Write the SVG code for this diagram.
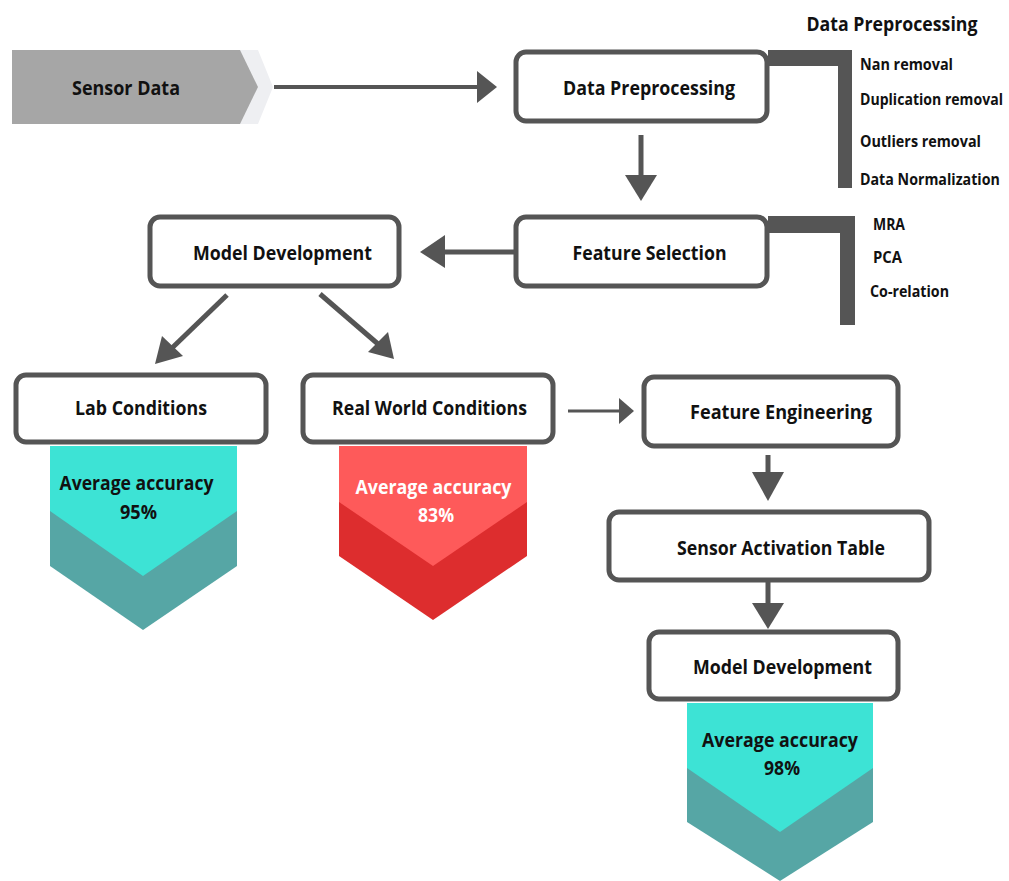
<svg xmlns="http://www.w3.org/2000/svg" width="1009" height="881" viewBox="0 0 1009 881">
  <style>
    .box { fill: #ffffff; stroke: #555555; stroke-width: 5; }
    .lbl { font-family: "Open Sans", "Liberation Sans", sans-serif; font-weight: 700; font-size: 20px; fill: #111111; text-anchor: middle; }
    .side { font-family: "Open Sans", "Liberation Sans", sans-serif; font-weight: 700; font-size: 16px; fill: #111111; }
    .line { stroke: #555555; stroke-width: 5; fill: none; }
    .head { fill: #555555; }
    .bracket { fill: #555555; }
    .light { fill: #ffffff; }
  </style>

  <!-- Sensor Data input -->
  <g id="sensor-data">
    <polygon points="26,50 258,50 273,87 258,124 26,124" fill="#eeeff2"/>
    <polygon points="12,50 240,50 258,87 240,124 12,124" fill="#a6a6a6"/>
    <text class="lbl" x="126" y="95" textLength="108" lengthAdjust="spacingAndGlyphs">Sensor Data</text>
  </g>

  <!-- Data Preprocessing -->
  <g id="data-preprocessing">
    <rect class="box" x="516" y="52" width="251" height="69" rx="10"/>
    <text class="lbl" x="649" y="95" textLength="172" lengthAdjust="spacingAndGlyphs">Data Preprocessing</text>
  </g>
  <g id="preprocessing-steps">
    <polygon class="bracket" points="768,50 852,50 852,188 838,188 838,66 768,66"/>
    <text class="lbl" x="892" y="31" textLength="171" lengthAdjust="spacingAndGlyphs">Data Preprocessing</text>
    <text class="side" x="860" y="70" textLength="93" lengthAdjust="spacingAndGlyphs">Nan removal</text>
    <text class="side" transform="translate(860,105) scale(0.88,1)">Duplication removal</text>
    <text class="side" x="860" y="147" textLength="121" lengthAdjust="spacingAndGlyphs">Outliers removal</text>
    <text class="side" transform="translate(860,185) scale(0.89,1)">Data Normalization</text>
  </g>

  <!-- Feature Selection -->
  <g id="feature-selection">
    <rect class="box" x="516" y="217" width="251" height="69" rx="10"/>
    <text class="lbl" x="649.5" y="260" textLength="154" lengthAdjust="spacingAndGlyphs">Feature Selection</text>
  </g>
  <g id="selection-methods">
    <polygon class="bracket" points="768,216 855,216 855,325 840,325 840,233 768,233"/>
    <text class="side" x="873" y="230" textLength="32" lengthAdjust="spacingAndGlyphs">MRA</text>
    <text class="side" x="873" y="263" textLength="29" lengthAdjust="spacingAndGlyphs">PCA</text>
    <text class="side" x="870" y="297" textLength="79" lengthAdjust="spacingAndGlyphs">Co-relation</text>
  </g>

  <!-- Model Development (top) -->
  <g id="model-development-1">
    <rect class="box" x="150" y="217" width="249" height="69" rx="10"/>
    <text class="lbl" x="282.5" y="260" textLength="179" lengthAdjust="spacingAndGlyphs">Model Development</text>
  </g>

  <!-- Lab Conditions -->
  <g id="lab-conditions">
    <rect class="box" x="16" y="375" width="250" height="67" rx="10"/>
    <text class="lbl" x="141" y="415" textLength="132" lengthAdjust="spacingAndGlyphs">Lab Conditions</text>
    <polygon points="50,446 237,446 237,566 143,630 50,566" fill="#56a6a5"/>
    <polygon points="50,446 237,446 237,511 143,576 50,511" fill="#3de3d5"/>
    <text class="lbl" x="136.5" y="490" textLength="154" lengthAdjust="spacingAndGlyphs">Average accuracy</text>
    <text class="lbl" x="138.5" y="519" textLength="37" lengthAdjust="spacingAndGlyphs">95%</text>
  </g>

  <!-- Real World Conditions -->
  <g id="real-world-conditions">
    <rect class="box" x="303" y="375" width="250" height="67" rx="10"/>
    <text class="lbl" x="429.5" y="415" textLength="195" lengthAdjust="spacingAndGlyphs">Real World Conditions</text>
    <polygon points="339,446 527,446 527,556 433,620 339,556" fill="#dd2d2e"/>
    <polygon points="339,446 527,446 527,502 433,566 339,502" fill="#fe5a5a"/>
    <text class="lbl light" x="433.5" y="494" textLength="156" lengthAdjust="spacingAndGlyphs">Average accuracy</text>
    <text class="lbl light" x="436" y="522" textLength="36" lengthAdjust="spacingAndGlyphs">83%</text>
  </g>

  <!-- Feature Engineering -->
  <g id="feature-engineering">
    <rect class="box" x="644" y="377" width="254" height="69" rx="10"/>
    <text class="lbl" x="781" y="419" textLength="182" lengthAdjust="spacingAndGlyphs">Feature Engineering</text>
  </g>

  <!-- Sensor Activation Table -->
  <g id="sensor-activation-table">
    <rect class="box" x="609" y="512" width="320" height="68" rx="10"/>
    <text class="lbl" x="781" y="555" textLength="208" lengthAdjust="spacingAndGlyphs">Sensor Activation Table</text>
  </g>

  <!-- Model Development (bottom) -->
  <g id="model-development-2">
    <rect class="box" x="649" y="632" width="249" height="67" rx="10"/>
    <text class="lbl" x="782.5" y="674" textLength="179" lengthAdjust="spacingAndGlyphs">Model Development</text>
    <polygon points="687,703 873,703 873,822 780,881 687,822" fill="#56a6a5"/>
    <polygon points="687,703 873,703 873,768 780,832 687,768" fill="#3de3d5"/>
    <text class="lbl" x="780" y="747" textLength="156" lengthAdjust="spacingAndGlyphs">Average accuracy</text>
    <text class="lbl" x="782" y="775" textLength="36" lengthAdjust="spacingAndGlyphs">98%</text>
  </g>

  <!-- Connectors -->
  <g id="connectors">
    <!-- Sensor Data to Data Preprocessing -->
    <line class="line" x1="274" y1="87" x2="480" y2="87" style="stroke-width:4"/>
    <polygon class="head" points="477,71 497,87 477,103"/>
    <!-- Data Preprocessing to Feature Selection -->
    <line class="line" x1="641" y1="135" x2="641" y2="177"/>
    <polygon class="head" points="625,175 657,175 641,201"/>
    <!-- Feature Selection to Model Development -->
    <line class="line" x1="514" y1="252" x2="442" y2="252"/>
    <polygon class="head" points="445,235 445,268 420,252"/>
    <!-- Model Development to Lab Conditions -->
    <line class="line" x1="227" y1="295" x2="172" y2="348"/>
    <polygon class="head" points="155,364 162,336 183,356"/>
    <!-- Model Development to Real World Conditions -->
    <line class="line" x1="320" y1="294" x2="378" y2="344"/>
    <polygon class="head" points="394,359 368,352 388,332"/>
    <!-- Real World Conditions to Feature Engineering -->
    <line class="line" x1="568" y1="411" x2="622" y2="411" style="stroke-width:3"/>
    <polygon class="head" points="619,398 634,411 619,424"/>
    <!-- Feature Engineering to Sensor Activation Table -->
    <line class="line" x1="768" y1="455" x2="768" y2="474"/>
    <polygon class="head" points="752,472 784,472 768,501"/>
    <!-- Sensor Activation Table to Model Development -->
    <line class="line" x1="768" y1="582" x2="768" y2="606"/>
    <polygon class="head" points="752,603 784,603 768,629"/>
  </g>
</svg>
